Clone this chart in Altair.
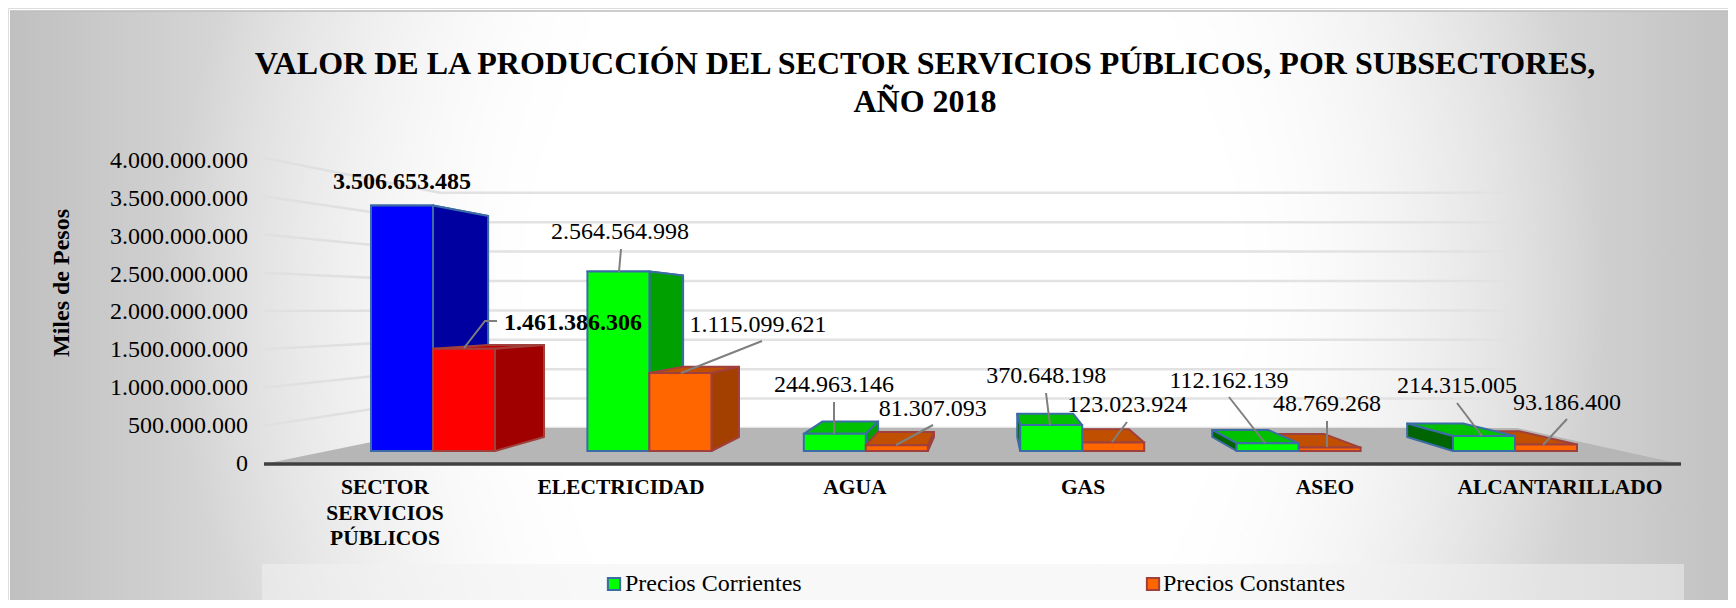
import altair as alt
import pandas as pd

# ---- values
CATEGORIES = ["SECTOR SERVICIOS PÚBLICOS", "ELECTRICIDAD", "AGUA", "GAS", "ASEO", "ALCANTARILLADO"]
CATEGORY_LINES = [["SECTOR", "SERVICIOS", "PÚBLICOS"], ["ELECTRICIDAD"], ["AGUA"], ["GAS"], ["ASEO"], ["ALCANTARILLADO"]]
CORRIENTES = [3506653485, 2564564998, 244963146, 370648198, 112162139, 214315005]
CONSTANTES = [1461386306, 1115099621, 81307093, 123023924, 48769268, 93186400]
TICKS = [0, 500000000, 1000000000, 1500000000, 2000000000, 2500000000, 3000000000, 3500000000, 4000000000]
TITLE = ["VALOR DE LA PRODUCCIÓN DEL SECTOR SERVICIOS PÚBLICOS, POR SUBSECTORES,", "AÑO 2018"]
Y_TITLE = "Miles de Pesos"
SERIES = ["Precios Corrientes", "Precios Constantes"]

# ---- styles
FONT = "Liberation Serif"
FRONT = {0: ["#0000ff", "#00ff00"], 1: ["#ff0000", "#ff6600"]}
TOP = {0: ["#0000c0", "#00c000"], 1: ["#c00000", "#c05000"]}
SIDE_R = {0: ["#0000a0", "#00a000"], 1: ["#a00000", "#a34000"]}
SIDE_L = {0: ["#000070", "#006400"], 1: ["#700000", "#803000"]}
EDGE = {0: "#3c6ca6", 1: "#a0403c"}

# ---- layout (page pixels)
W, H = 1720, 592
X0, DX = 371.0, 216.4      # left edge of first group, group spacing
Y0, PXV = 451.0, 70e-9     # base line of the bars, pixels per value unit
BAR = 62 / DX              # bar width in group units
UC = (990 - X0) / DX       # vanishing column
KX, KY, VB = 0.901, 0.9, 0.2e9   # depth projection of the back of a bar


def ux(px):
    return (px - X0) / DX


def uy(py):
    return (Y0 - py) / PXV


xs = alt.Scale(domain=[ux(8), ux(8 + W)], range=[0, W], nice=False, zero=False)
ys = alt.Scale(domain=[uy(8 + H), uy(8)], range=[H, 0], nice=False, zero=False)
X = lambda f="x": alt.X(f"{f}:Q", scale=xs, axis=None, title=None)
Y = lambda f="y": alt.Y(f"{f}:Q", scale=ys, axis=None, title=None, stack=None)
fill_c = alt.Fill("fill:N", scale=None, legend=None)
stroke_c = alt.Stroke("edge:N", scale=None, legend=None)

backU = lambda u: UC + KX * (u - UC)
backV = lambda v: KY * v + VB

tops, sides, fronts = [], [], []
for g in range(6):
    first_series_far = g < 3          # left groups: series 1 is painted first
    palette = 0 if g == 0 else 1
    for s, vals in enumerate([CORRIENTES, CONSTANTES]):
        v = float(vals[g])
        l = g + s * BAR
        r = l + BAR
        far = (s == 0) == first_series_far
        bid = f"{g}-{s}"
        tops += [
            dict(bar=bid, far=far, y=v, x=l, x2=r, fill=TOP[s][palette], edge=EDGE[s]),
            dict(bar=bid, far=far, y=backV(v), x=backU(l), x2=backU(r), fill=TOP[s][palette], edge=EDGE[s]),
        ]
        e = r if g < 3 else l
        sfill = SIDE_R[s][palette] if g < 3 else SIDE_L[s][palette]
        sides += [
            dict(bar=bid, far=far, x=e, y=v, y2=0.0, fill=sfill, edge=EDGE[s]),
            dict(bar=bid, far=far, x=backU(e), y=backV(v), y2=VB, fill=sfill, edge=EDGE[s]),
        ]
        fronts.append(dict(bar=bid, far=far, x=l, x2=r, y=v, y2=0.0, fill=FRONT[s][palette], edge=EDGE[s]))

tops, sides, fronts = pd.DataFrame(tops), pd.DataFrame(sides), pd.DataFrame(fronts)


def bars(flag):
    t = alt.Chart(tops[tops.far == flag]).mark_area(orient="horizontal", strokeWidth=2, strokeJoin="round").encode(
        y=Y(), x=X(), x2="x2:Q", detail="bar:N", fill=fill_c, stroke=stroke_c)
    d = alt.Chart(sides[sides.far == flag]).mark_area(orient="vertical", strokeWidth=2, strokeJoin="round").encode(
        x=X(), y=Y(), y2="y2:Q", detail="bar:N", fill=fill_c, stroke=stroke_c)
    f = alt.Chart(fronts[fronts.far == flag]).mark_rect(strokeWidth=2).encode(
        x=X(), x2="x2:Q", y=Y(), y2="y2:Q", fill=fill_c, stroke=stroke_c)
    return [t, d, f]


# ---- backdrop
bg_grad = alt.Gradient(
    gradient="linear", x1=0, y1=0, x2=1, y2=0,
    stops=[
        alt.GradientStop(color="#c0c0c0", offset=0),
        alt.GradientStop(color="#ffffff", offset=0.358),
        alt.GradientStop(color="#ffffff", offset=0.655),
        alt.GradientStop(color="#c2c2c2", offset=1),
    ],
)
glow_grad = alt.Gradient(
    gradient="radial", x1=0.51, y1=0.49, r1=0, x2=0.51, y2=0.49, r2=0.42,
    stops=[
        alt.GradientStop(color="rgba(255,255,255,1)", offset=0),
        alt.GradientStop(color="rgba(255,255,255,1)", offset=0.48),
        alt.GradientStop(color="rgba(255,255,255,0)", offset=1),
    ],
)
frame_df = pd.DataFrame([dict(x=ux(10), x2=ux(8 + W), y=uy(11), y2=uy(8 + H))])
bg = alt.Chart(frame_df).mark_rect(color=bg_grad).encode(x=X(), x2="x2:Q", y=Y(), y2="y2:Q")
glow = alt.Chart(frame_df).mark_rect(color=glow_grad).encode(x=X(), x2="x2:Q", y=Y(), y2="y2:Q")
bg_top = alt.Chart(frame_df).mark_rule(color="#bdbdbd", strokeWidth=1.5).encode(x=X(), x2="x2:Q", y=Y())

# ---- walls: gridlines (wall plane) and their runs towards the axis
WALL_X0, WALL_X1, WALL_Y, WALL_K = 440, 1517, 428, 58.8e-9
AX_X0, AX_X1, AX_Y, AX_K = 264, 1681, 464, 76.5e-9
LABEL_Y, LABEL_K = 463.5, 75.6e-9
grid, runs = [], []
for i, t in enumerate(TICKS):
    wy = WALL_Y - WALL_K * t
    ay = AX_Y - AX_K * t
    grid.append(dict(x=ux(WALL_X0), x2=ux(WALL_X1), y=uy(wy)))
    if t > 0:
        runs += [dict(t=i, x=ux(AX_X0), y=uy(ay)), dict(t=i, x=ux(WALL_X0), y=uy(wy))]
grid_l = alt.Chart(pd.DataFrame(grid)).mark_rule(color="#e2e2e2", strokeWidth=2.5).encode(x=X(), x2="x2:Q", y=Y())
runs_l = alt.Chart(pd.DataFrame(runs)).mark_line(color="#e0e0e0", strokeWidth=2.5).encode(x=X(), y=Y(), detail="t:N")
floor = alt.Chart(pd.DataFrame([
    dict(y=uy(WALL_Y), x=ux(WALL_X0), x2=ux(WALL_X1)),
    dict(y=uy(AX_Y), x=ux(AX_X0), x2=ux(AX_X1)),
])).mark_area(orient="horizontal", color="#b6b6b6").encode(y=Y(), x=X(), x2="x2:Q")
axis_line = alt.Chart(pd.DataFrame([dict(x=ux(AX_X0), x2=ux(AX_X1), y=uy(AX_Y))])).mark_rule(
    color="#404040", strokeWidth=3.5).encode(x=X(), x2="x2:Q", y=Y())

# ---- tick labels / axis title / category labels
tick_df = pd.DataFrame([dict(x=ux(248), y=uy(LABEL_Y - LABEL_K * t), label=f"{t:,}".replace(",", ".")) for t in TICKS])
tick_l = alt.Chart(tick_df).mark_text(font=FONT, fontSize=24, align="right", baseline="middle", color="#000000").encode(
    x=X(), y=Y(), text="label:N")
ytitle = alt.Chart(pd.DataFrame([dict(x=ux(62), y=uy(283), label=Y_TITLE)])).mark_text(
    font=FONT, fontSize=24, fontWeight="bold", angle=270, align="center", baseline="middle", color="#000000").encode(
    x=X(), y=Y(), text="label:N")
CAT_X = [385, 621, 855, 1083, 1325, 1560]
cat_rows = []
for cx, lines in zip(CAT_X, CATEGORY_LINES):
    for j, line in enumerate(lines):
        cat_rows.append(dict(x=ux(cx), y=uy(488 + j * 25.5), label=line))
cat_l = alt.Chart(pd.DataFrame(cat_rows)).mark_text(
    font=FONT, fontSize=21.5, fontWeight="bold", align="center", baseline="middle", color="#000000").encode(
    x=X(), y=Y(), text="label:N")

# ---- data labels and leader lines: offsets in pixels from the top-centre of each bar
LABEL_OFF = [
    [(0, -23.5), (1.6, -39.5), (-0.8, -49), (-5, -49), (-38.6, -62), (-27, -50)],
    [(109, -25.7), (77.6, -47.5), (36, -36), (14, -37), (-2.6, -43.6), (21, -41.5)],
]
labels = []
for s, vals in enumerate([CORRIENTES, CONSTANTES]):
    for g, v in enumerate(vals):
        cx = X0 + DX * (g + (s + 0.5) * BAR)
        cy = Y0 - PXV * v
        ox, oy = LABEL_OFF[s][g]
        labels.append(dict(x=ux(cx + ox), y=uy(cy + oy), label=f"{v:,}".replace(",", "."),
                           w="bold" if g == 0 else "normal"))
tlabels = pd.DataFrame(labels)
lab_n = alt.Chart(tlabels[tlabels.w == "normal"]).mark_text(font=FONT, fontSize=24, align="center", baseline="middle", color="#000000").encode(x=X(), y=Y(), text="label:N")
lab_b = alt.Chart(tlabels[tlabels.w == "bold"]).mark_text(font=FONT, fontSize=24, fontWeight="bold", align="center", baseline="middle", color="#000000").encode(x=X(), y=Y(), text="label:N")

LEADERS = [
    [(464, 348), (485, 321), (497, 321)],
    [(619, 272), (621, 249)],
    [(681, 373), (762, 341)],
    [(834, 434), (834, 402)],
    [(896, 445), (933, 425)],
    [(1050, 425), (1046, 393)],
    [(1112, 442), (1127, 422)],
    [(1265, 443), (1229, 397)],
    [(1327, 447), (1327, 421)],
    [(1482, 436), (1457, 403)],
    [(1543, 445), (1567, 419)],
]
lead_rows = []
for i, pts in enumerate(LEADERS):
    for j, (a, b) in enumerate(pts):
        lead_rows.append(dict(i=i, j=j, x=ux(a), y=uy(b)))
lead_l = alt.Chart(pd.DataFrame(lead_rows)).mark_line(color="#7f7f7f", strokeWidth=2).encode(
    x=X(), y=Y(), detail="i:N", order="j:Q")

# ---- legend
leg_box = alt.Chart(pd.DataFrame([dict(x=ux(262), x2=ux(1684), y=uy(564), y2=uy(604))])).mark_rect(
    color="#f2f2f2", opacity=0.5).encode(x=X(), x2="x2:Q", y=Y(), y2="y2:Q")
leg_sym = alt.Chart(pd.DataFrame([
    dict(x=ux(614), y=uy(584), fill=FRONT[0][1], edge=EDGE[0]),
    dict(x=ux(1153), y=uy(584), fill=FRONT[1][1], edge=EDGE[1]),
])).mark_point(shape="square", filled=True, size=150, strokeWidth=2, opacity=1).encode(x=X(), y=Y(), fill=fill_c, stroke=stroke_c)
leg_txt = alt.Chart(pd.DataFrame([
    dict(x=ux(625), y=uy(584), label=SERIES[0]),
    dict(x=ux(1163), y=uy(584), label=SERIES[1]),
])).mark_text(font=FONT, fontSize=24, align="left", baseline="middle", color="#000000").encode(x=X(), y=Y(), text="label:N")

layers = [bg, glow, bg_top, runs_l, grid_l, floor, axis_line] + bars(True) + bars(False) + [
    lead_l, tick_l, ytitle, cat_l, lab_n, lab_b, leg_box, leg_sym, leg_txt]

chart = alt.layer(*layers).properties(
    width=W, height=H, padding=0,
    autosize=alt.AutoSizeParams(type="none", contains="padding"),
    title=alt.TitleParams(
        text=TITLE, font=FONT, fontSize=32, fontWeight="bold", color="#000000",
        anchor="middle", frame="group", dx=57, dy=147, lineHeight=38, baseline="bottom",
    ),
).configure_view(stroke=None).configure(background="#ffffff")

chart.save("out.html", embed_options={"renderer": "svg", "actions": False})
